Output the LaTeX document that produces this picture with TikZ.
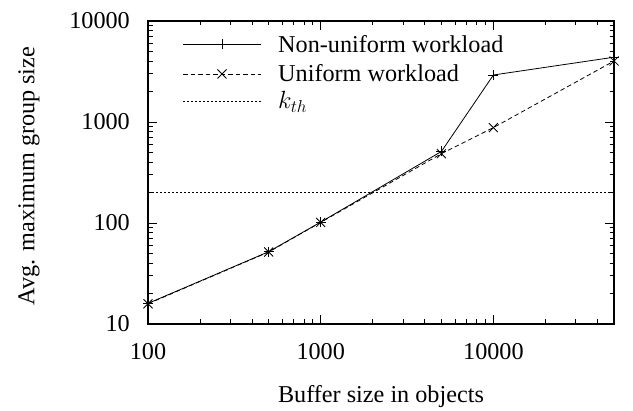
\documentclass[tikz,border=0pt]{standalone}
\usepackage{fontspec}
\setmainfont{Liberation Serif}
\begin{document}
\begin{tikzpicture}[x=1pt,y=1pt,
  lbl/.style={font=\fontsize{24.2}{28}\selectfont, inner sep=0pt},
  frame/.style={line width=1.3pt},
  tk/.style={line width=0.9pt},
  nonu/.style={line width=0.8pt},
  unif/.style={line width=0.8pt, dash pattern=on 4.5pt off 3pt},
  kth/.style={line width=0.8pt, dash pattern=on 1.5pt off 2.5pt},
  mk/.style={line width=0.8pt}]
\useasboundingbox (0,0) rectangle (633,411);
% frame corners
\coordinate (ll) at (148,87);
\coordinate (ur) at (614.1,390);
% ticks
\foreach \d in {0,1,2}{
  \pgfmathsetmacro{\xx}{148+172.7*\d}
  \draw[tk] (\xx,87) -- ++(0,9);
  \draw[tk] (\xx,390) -- ++(0,-9);
}
\foreach \d in {0,1,2}{
  \foreach \m in {2,...,9}{
    \pgfmathsetmacro{\xx}{148+172.7*(\d+log10(\m))}
    \pgfmathparse{\xx<614?1:0}
    \ifnum\pgfmathresult=1
      \draw[tk] (\xx,87) -- ++(0,4.5);
      \draw[tk] (\xx,390) -- ++(0,-4.5);
    \fi
  }
}
\foreach \d in {0,1,2,3}{
  \pgfmathsetmacro{\yy}{87+101*\d}
  \draw[tk] (148,\yy) -- ++(9,0);
  \draw[tk] (614.1,\yy) -- ++(-9,0);
}
\foreach \d in {0,1,2}{
  \foreach \m in {2,...,9}{
    \pgfmathsetmacro{\yy}{87+101*(\d+log10(\m))}
    \draw[tk] (148,\yy) -- ++(4.5,0);
    \draw[tk] (614.1,\yy) -- ++(-4.5,0);
  }
}
\draw[frame] (ll) rectangle (ur);
% tick labels
\node[lbl, anchor=east] (y10) at (130,87) {10};
\node[lbl, anchor=east] (y100) at (130,188) {100};
\node[lbl, anchor=east] (y1000) at (130,289) {1000};
\node[lbl, anchor=east] (y10000) at (130,390) {10000};
\node[lbl] (x100) at (148,59) {100};
\node[lbl] (x1000) at (320.7,59) {1000};
\node[lbl] (x10000) at (493.4,59) {10000};
% axis labels
\node[lbl, rotate=90] (ylab) at (29,235) {Avg. maximum group size};
\node[lbl] (xlab) at (381,14) {Buffer size in objects};
% k_th
\coordinate (k1) at (148,218.4);
\coordinate (k2) at (614.1,218.4);
\draw[kth] (k1) -- (k2);
% data
\coordinate (n1) at (148,107.6);
\coordinate (n2) at (268.7,159.3);
\coordinate (n3) at (320.7,188.9);
\coordinate (n4) at (441.4,259.5);
\coordinate (n5) at (493.4,336);
\coordinate (n6) at (614.1,353.8);
\coordinate (u1) at (148,107.2);
\coordinate (u2) at (268.7,159.0);
\coordinate (u3) at (320.7,188.6);
\coordinate (u4) at (441.4,257.3);
\coordinate (u5) at (493.4,283.4);
\coordinate (u6) at (614.1,350);
\draw[nonu] (n1) -- (n2) -- (n3) -- (n4) -- (n5) -- (n6);
\draw[unif] (u1) -- (u2) -- (u3) -- (u4) -- (u5) -- (u6);
\foreach \p in {n1,n2,n3,n4,n5,n6}{
  \draw[mk] ([xshift=-5pt]\p) -- ([xshift=5pt]\p);
  \draw[mk] ([yshift=-5pt]\p) -- ([yshift=5pt]\p);
}
\foreach \p in {u1,u2,u3,u4,u5,u6}{
  \draw[mk] ([shift={(-4.5pt,-4.5pt)}]\p) -- ([shift={(4.5pt,4.5pt)}]\p);
  \draw[mk] ([shift={(-4.5pt,4.5pt)}]\p) -- ([shift={(4.5pt,-4.5pt)}]\p);
}
% legend
\coordinate (l1a) at (183,366.7); \coordinate (l1b) at (261,366.7); \coordinate (l1m) at (222,366.7);
\coordinate (l2a) at (183,337); \coordinate (l2b) at (261,337); \coordinate (l2m) at (222,337);
\coordinate (l3a) at (183,309.3); \coordinate (l3b) at (261,309.3);
\draw[nonu] (l1a) -- (l1b);
\draw[mk] ([xshift=-5pt]l1m) -- ([xshift=5pt]l1m);
\draw[mk] ([yshift=-5pt]l1m) -- ([yshift=5pt]l1m);
\draw[unif] (l2a) -- (l2b);
\draw[mk] ([shift={(-4.5pt,-4.5pt)}]l2m) -- ([shift={(4.5pt,4.5pt)}]l2m);
\draw[mk] ([shift={(-4.5pt,4.5pt)}]l2m) -- ([shift={(4.5pt,-4.5pt)}]l2m);
\draw[kth] (l3a) -- (l3b);
\node[lbl, anchor=west] (t1) at (278,367) {Non-uniform workload};
\node[lbl, anchor=west] (t2) at (278,337.5) {Uniform workload};
\node[lbl, anchor=west] (t3) at (278,309.3) {$k_{th}$};
\end{tikzpicture}
\end{document}
